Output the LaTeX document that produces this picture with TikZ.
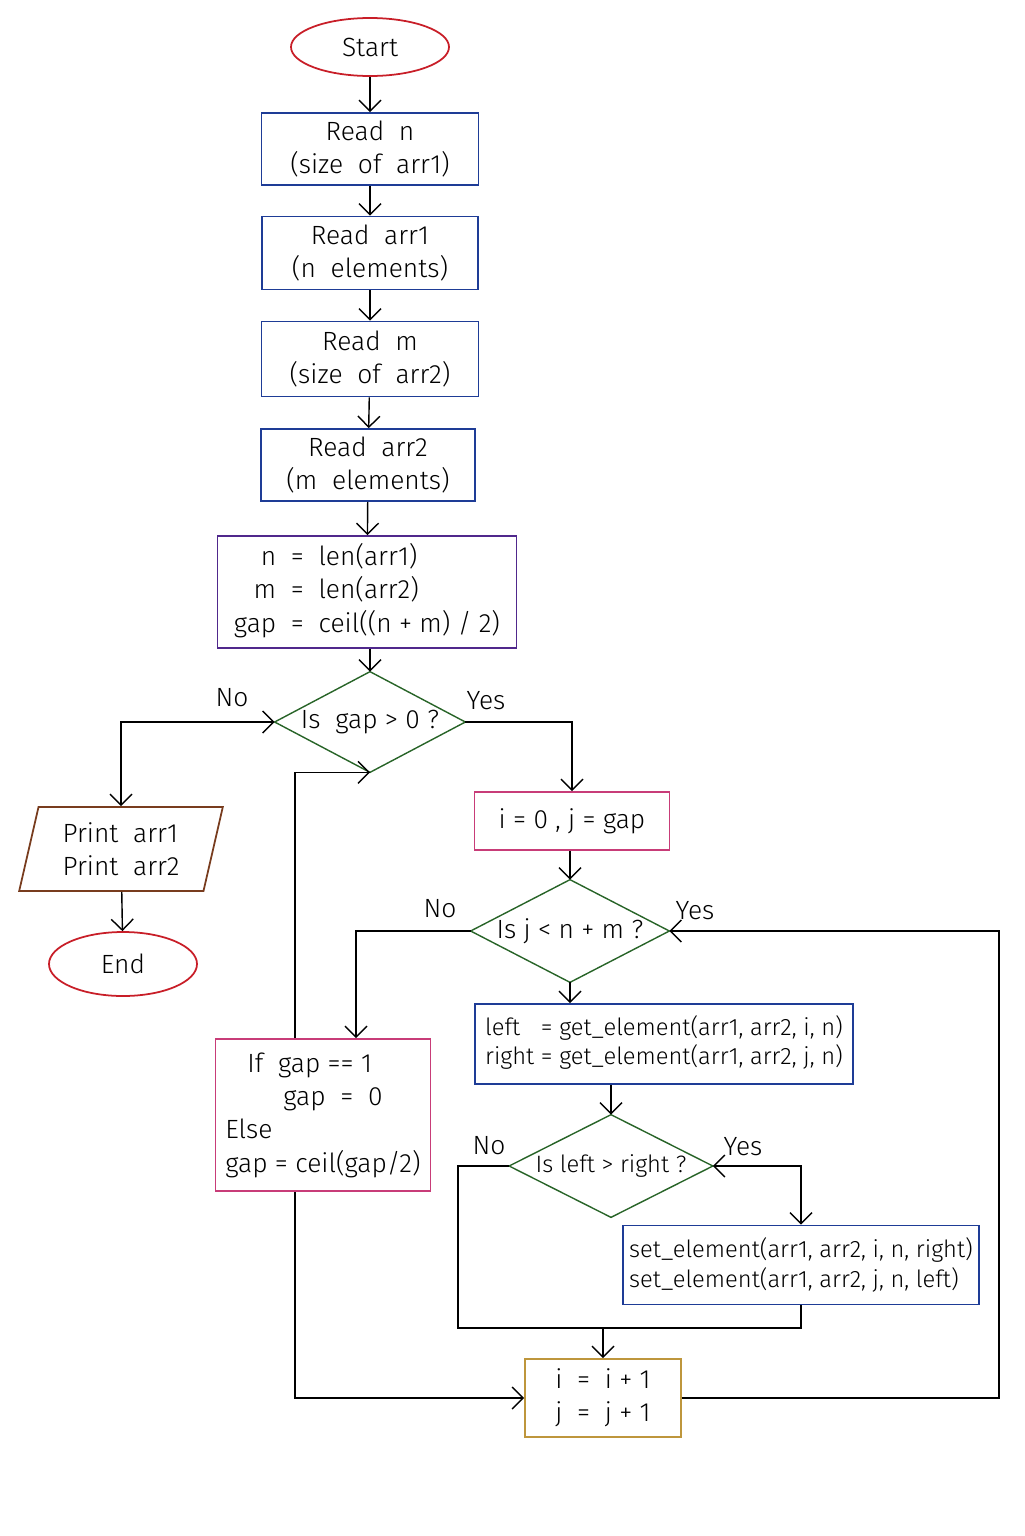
\documentclass[tikz,border=0pt]{standalone}
\usepackage{fontspec}
\setmainfont{Fira Sans Light}
\usetikzlibrary{arrows.meta, shapes.geometric}
\definecolor{cred}{RGB}{200,30,40}
\definecolor{cblue}{RGB}{30,60,150}
\definecolor{cpurple}{RGB}{80,40,140}
\definecolor{cgreen}{RGB}{40,100,40}
\definecolor{cbrown}{RGB}{120,60,30}
\definecolor{cpink}{RGB}{200,60,120}
\definecolor{cgold}{RGB}{190,150,60}
\tikzset{
>={Straight Barb[length=2.2mm]},
every node/.style={font=\fontsize{15}{19}\selectfont, text=black},
line/.style={draw=black, line width=0.8pt},
terminal/.style={ellipse, draw=cred, line width=1pt},
process/.style={rectangle, draw=cblue, line width=1pt, align=center},
decision/.style={rectangle, inner sep=0pt},
io/.style={trapezium, trapezium left angle=77, trapezium right angle=103,
    trapezium stretches=true, draw=cbrown, line width=1pt, align=left},
small/.style={font=\fontsize{13.5}{17}\selectfont},
label/.style={font=\fontsize{15}{19}\selectfont},
}
\newcommand{\diamondof}[1]{\draw[cgreen, line width=0.8pt] (#1.north) -- (#1.east) -- (#1.south) -- (#1.west) -- cycle;}
\begin{document}
\begin{tikzpicture}[x=0.2mm, y=-0.2mm]
\useasboundingbox (0,0) rectangle (1024,1536);
	\node[terminal, minimum width=31.6mm, minimum height=11.6mm] at (370,47) (start) {Start};
	\node[process, minimum width=43.4mm, minimum height=14.4mm] at (370,149) (readn) {Read\ \ n\\(size\ \ of\ \ arr1)};
	\node[process, minimum width=43.2mm, minimum height=14.6mm] at (370,253) (readarr1) {Read\ \ arr1\\(n\ \ elements)};
	\node[process, minimum width=43.4mm, minimum height=15mm] at (370,359) (readm) {Read\ \ m\\(size\ \ of\ \ arr2)};
	\node[process, minimum width=42.8mm, minimum height=14.4mm] at (368,465) (readarr2) {Read\ \ arr2\\(m\ \ elements)};
	\node[process, draw=cpurple, minimum width=59.8mm, minimum height=22.4mm] at (367,592) (calc)
		{\begin{tabular}{r@{\ \ =\ \ }l}n & len(arr1)\\ m & len(arr2)\\ gap & ceil((n + m) / 2)\end{tabular}};
	\node[decision, minimum width=38mm, minimum height=20mm] at (370,722) (gapcheck) {Is\ \ gap > 0 ?};
	\node[io, minimum width=41mm, minimum height=16.8mm] at (121,849) (print) {Print\ \ arr1\\Print\ \ arr2};
	\node[terminal, minimum width=29.6mm, minimum height=12.8mm] at (123,964) (end) {End};
	\node[process, draw=cpink, minimum width=39mm, minimum height=11.6mm] at (572,821) (init) {i\ = 0 ,\ j\ = gap};
	\node[decision, minimum width=39.6mm, minimum height=20.4mm] at (570,931) (jcheck) {Is\ j < n + m ?};
	\node[process, small, minimum width=75.6mm, minimum height=16mm] at (664,1044) (getel)
		{\begin{tabular}{@{}l@{\ =\ }l@{}}left\ \ & get\_element(arr1, arr2, i, n)\\ right & get\_element(arr1, arr2, j, n)\end{tabular}};
	\node[decision, small, minimum width=40.6mm, minimum height=20.4mm] at (611,1166) (cmp) {Is left > right ?};
	\node[process, small, minimum width=66mm, minimum height=15.8mm, align=left] at (801,1265) (setel)
		{set\_element(arr1, arr2, i, n, right)\\set\_element(arr1, arr2, j, n, left)};
	\node[process, draw=cpink, minimum width=42mm, minimum height=30.4mm, align=left, inner sep=2mm] at (323,1115) (upd)
		{\ \ \ If\ \ gap == 1\\\hspace{2.2em}gap\ \ =\ \ 0\\Else\\gap = ceil(gap/2)};
	\node[process, draw=cgold, minimum width=31.2mm, minimum height=15.6mm] at (603,1398) (inc) {i\ \ =\ \ i + 1\\j\ \ =\ \ j + 1};
	\diamondof{gapcheck}
	\diamondof{jcheck}
	\diamondof{cmp}

	% main chain
	\draw[line, ->] (start) -- (readn);
	\draw[line, ->] (readn) -- (readarr1);
	\draw[line, ->] (readarr1) -- (readm);
	\draw[line, ->] (readm) -- (readarr2);
	\draw[line, ->] (readarr2) -- (calc);
	\draw[line, ->] (calc.south -| gapcheck.north) -- (gapcheck.north);
	\draw[line, <->] (gapcheck.west) -| (print.north);
	\draw[line, ->] (print) -- (end);
	\draw[line, ->] (gapcheck.east) -| (init.north);
	\draw[line, ->] (init.south -| jcheck.north) -- (jcheck.north);
	\draw[line, ->] (jcheck.west) -| (upd.north -| 356,0);
	\draw[line, ->] (jcheck.south) -- (getel.north -| jcheck.south);
	\draw[line, ->] (getel.south -| cmp.north) -- (cmp.north);
	\draw[line, <->] (cmp.east) -| (setel.north);
	\coordinate (merge) at (603,1328);
	\draw[line] (cmp.west) -| (458,1328) -- (merge);
	\draw[line] (setel.south) |- (merge);
	\draw[line, ->] (merge) -- (inc.north);
	% loops back
	\draw[line, ->] (upd.north -| 295,0) |- (gapcheck.south);
	\draw[line, ->] (upd.south -| 295,0) |- (inc.west);
	\draw[line, ->] (inc.east) -- (inc.east -| 999,0) |- (jcheck.east);

	% labels
	\node[label] at (232,698) (no1) {No};
	\node[label] at (486,701) (yes1) {Yes};
	\node[label] at (440,909) (no2) {No};
	\node[label] at (695,911) (yes2) {Yes};
	\node[label] at (489,1146) (no3) {No};
	\node[label] at (743,1147) (yes3) {Yes};
\end{tikzpicture}
\end{document}
